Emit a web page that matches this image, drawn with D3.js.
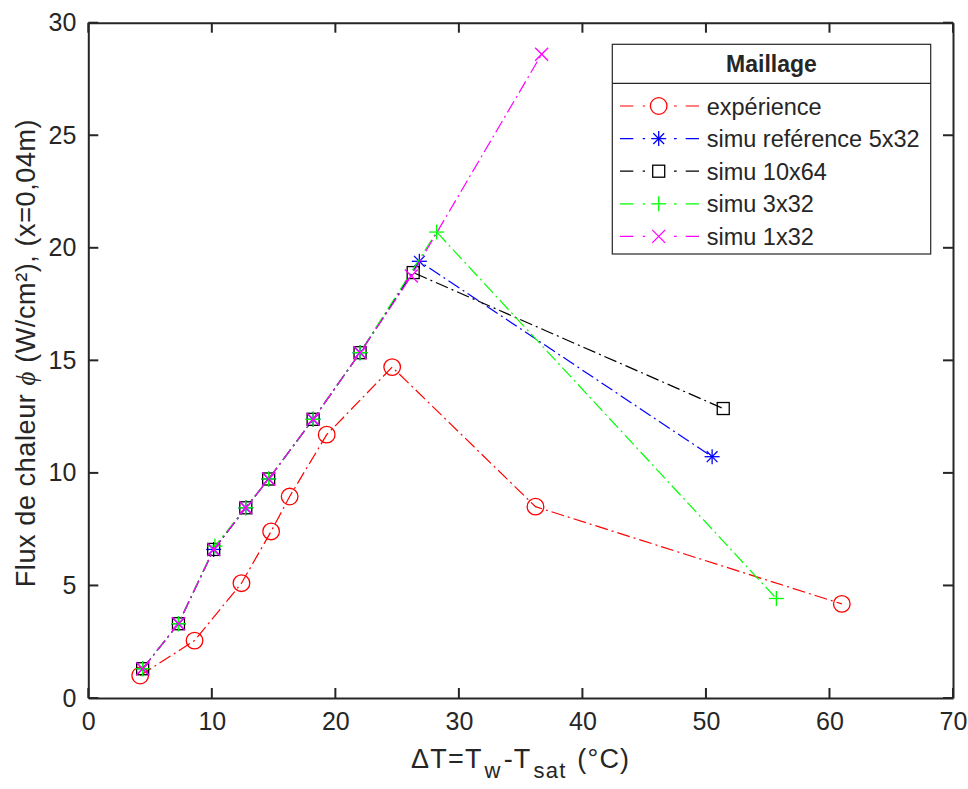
<!DOCTYPE html>
<html><head><meta charset="utf-8">
<script src="https://cdn.jsdelivr.net/npm/d3@7"></script>
<style>body{margin:0;background:#fff}svg{display:block}text{font-family:"Liberation Sans",Arial,Helvetica,sans-serif;fill:#262626}</style>
</head><body>
<script>
const xTicks=[0,10,20,30,40,50,60,70];
const yTicks=[0,5,10,15,20,25,30];
const expX=[4.2,8.6,12.4,14.8,16.3,19.3,24.6,36.2,61.0];
const expY=[1.0,2.55,5.1,7.4,8.95,11.7,14.7,8.5,4.18];
const refX=[4.4,7.3,10.15,12.75,14.6,18.2,22.0,26.8,50.5];
const refY=[1.3,3.3,6.6,8.45,9.73,12.38,15.34,19.4,10.72];
const m64X=[4.4,7.3,10.15,12.75,14.6,18.2,22.0,26.3,51.4];
const m64Y=[1.3,3.3,6.6,8.45,9.73,12.38,15.34,18.9,12.86];
const m3X=[4.4,7.3,10.25,12.75,14.6,18.2,22.0,28.2,55.7];
const m3Y=[1.3,3.3,6.75,8.45,9.73,12.38,15.34,20.7,4.42];
const m1X=[4.4,7.3,10.15,12.75,14.6,18.2,22.0,26.15,36.7];
const m1Y=[1.3,3.3,6.6,8.45,9.73,12.38,15.34,18.75,28.6];
const seriesNames=["expérience","simu reférence 5x32","simu 10x64","simu 3x32","simu 1x32"];
const seriesColors=["#FF0000","#0000FF","#000000","#00FF00","#FF00FF"];
const seriesMarkers=["circle","star","square","plus","cross"];

const W=968,H=789;
const L=88.3,R=953,T=22.7,B=698;
const svg=d3.select("body").append("svg").attr("width",W).attr("height",H);
const x=d3.scaleLinear().domain([0,70]).range([L,R]);
const y=d3.scaleLinear().domain([0,30]).range([B,T]);
const axCol="#262626";

const series=[[expX,expY],[refX,refY],[m64X,m64Y],[m3X,m3Y],[m1X,m1Y]];
const dash="13,4,2,4";

function marker(g,type,cx,cy,col){
  if(type==="circle") g.append("circle").attr("cx",cx).attr("cy",cy).attr("r",8.3).attr("fill","none").attr("stroke",col).attr("stroke-width",1.3);
  else if(type==="square") g.append("rect").attr("x",cx-6).attr("y",cy-6).attr("width",12).attr("height",12).attr("fill","none").attr("stroke",col).attr("stroke-width",1.3);
  else {
    let segs=[];
    const s=7.5;
    if(type==="plus"||type==="star"){segs.push([0,-s,0,s],[-s,0,s,0]);}
    if(type==="cross"||type==="star"){const d=type==="star"?s*0.72:6.5;segs.push([-d,-d,d,d],[-d,d,d,-d]);}
    segs.forEach(q=>g.append("line").attr("x1",cx+q[0]).attr("y1",cy+q[1]).attr("x2",cx+q[2]).attr("y2",cy+q[3]).attr("stroke",col).attr("stroke-width",1.3));
  }
}

const plot=svg.append("g");
const line=d3.line().x(d=>x(d[0])).y(d=>y(d[1]));
series.forEach((s,i)=>{
  const pts=s[0].map((v,j)=>[v,s[1][j]]);
  const g=plot.append("g");
  g.append("path").datum(pts).attr("d",line).attr("fill","none").attr("stroke",seriesColors[i]).attr("stroke-width",1.2).attr("stroke-dasharray",dash);
  pts.forEach(p=>marker(g,seriesMarkers[i],x(p[0]),y(p[1]),seriesColors[i]));
});

// axes
const fs=25;
const xb=svg.append("g").attr("transform",`translate(0,${B})`).call(d3.axisBottom(x).tickValues(xTicks).tickSize(0).tickPadding(14));
const xt=svg.append("g").attr("transform",`translate(0,${T})`).call(d3.axisTop(x).tickValues(xTicks).tickSize(0).tickFormat(""));
const yl=svg.append("g").attr("transform",`translate(${L},0)`).call(d3.axisLeft(y).tickValues(yTicks).tickSize(0).tickPadding(12));
const yr=svg.append("g").attr("transform",`translate(${R},0)`).call(d3.axisRight(y).tickValues(yTicks).tickSize(0).tickFormat(""));
[xb,xt,yl,yr].forEach(a=>{a.select(".domain").attr("stroke",axCol).attr("stroke-width",2);a.selectAll("text").attr("font-size",fs).attr("fill",axCol).style("font-family",'"Liberation Sans",Arial,sans-serif');});
const tl=10;
xTicks.forEach(v=>{
  svg.append("line").attr("x1",x(v)).attr("x2",x(v)).attr("y1",B).attr("y2",B-tl).attr("stroke",axCol).attr("stroke-width",2);
  svg.append("line").attr("x1",x(v)).attr("x2",x(v)).attr("y1",T).attr("y2",T+tl).attr("stroke",axCol).attr("stroke-width",2);
});
yTicks.forEach(v=>{
  svg.append("line").attr("x1",L).attr("x2",L+tl).attr("y1",y(v)).attr("y2",y(v)).attr("stroke",axCol).attr("stroke-width",2);
  svg.append("line").attr("x1",R).attr("x2",R-tl).attr("y1",y(v)).attr("y2",y(v)).attr("stroke",axCol).attr("stroke-width",2);
});

// x label
const xlab=svg.append("text").attr("x",(L+R)/2).attr("y",768).attr("text-anchor","middle").attr("font-size",27).attr("letter-spacing",1.2);
xlab.append("tspan").text("ΔT=T");
xlab.append("tspan").attr("font-size",22).attr("dy",10).attr("dx",2).text("w");
xlab.append("tspan").attr("dy",-10).attr("dx",2).text("-T");
xlab.append("tspan").attr("font-size",22).attr("dy",10).attr("dx",2).text("sat");
xlab.append("tspan").attr("dy",-10).attr("dx",2).text(" (°C)");

// y label
const ylab=svg.append("text").attr("transform",`translate(35,353) rotate(-90)`).attr("text-anchor","middle").attr("font-size",27).attr("letter-spacing",0.6);
ylab.append("tspan").text("Flux de chaleur ");
ylab.append("tspan").attr("font-style","italic").style("font-family","'Liberation Serif',serif").text("ϕ");
ylab.append("tspan").text(" (W/cm²), (x=0,04m)");

// legend
const lx0=612.3,lx1=930.7,ly0=44.3,lsep=83.3,ly1=254;
const lg=svg.append("g");
lg.append("rect").attr("x",lx0).attr("y",ly0).attr("width",lx1-lx0).attr("height",ly1-ly0).attr("fill","#fff").attr("stroke",axCol).attr("stroke-width",1.2);
lg.append("line").attr("x1",lx0).attr("x2",lx1).attr("y1",lsep).attr("y2",lsep).attr("stroke",axCol).attr("stroke-width",1.2);
lg.append("text").attr("x",(lx0+lx1)/2).attr("y",(ly0+lsep)/2+8).attr("text-anchor","middle").attr("font-size",23).attr("font-weight","bold").attr("fill","#000").text("Maillage");
seriesNames.forEach((n,i)=>{
  const yy=106+i*32.6;
  lg.append("line").attr("x1",620).attr("x2",699).attr("y1",yy).attr("y2",yy).attr("stroke",seriesColors[i]).attr("stroke-width",1.2).attr("stroke-dasharray","13.3,9.4,2.3,29,2.7,9,13.3");
  marker(lg,seriesMarkers[i],658.7,yy,seriesColors[i]);
  lg.append("text").attr("x",706.7).attr("y",yy+8.5).attr("font-size",23.5).attr("fill","#000").text(n);
});
</script>
</body></html>
